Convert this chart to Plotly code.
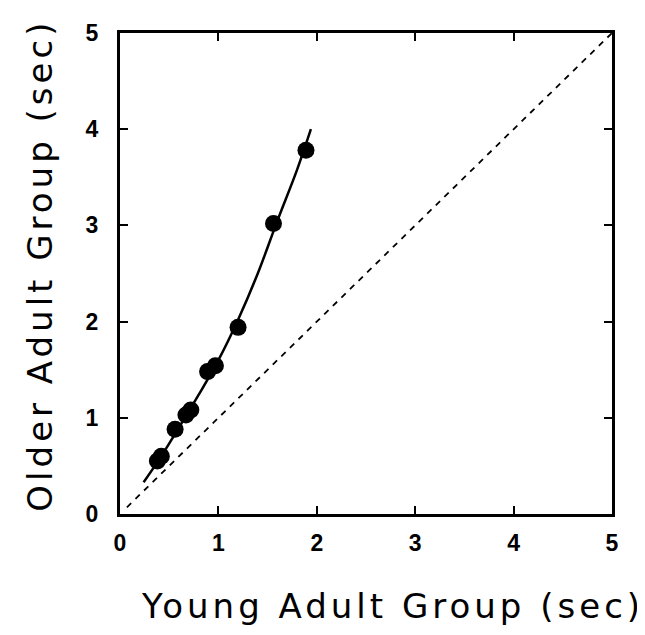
import plotly.graph_objects as go

# Observed data points (young, older) in seconds
young = [0.38, 0.42, 0.56, 0.67, 0.72, 0.89, 0.97, 1.20, 1.56, 1.89]
older = [0.55, 0.60, 0.88, 1.03, 1.08, 1.48, 1.54, 1.94, 3.02, 3.78]

# Fitted curve
curve_x = [0.24, 0.40, 0.60, 0.80, 1.00, 1.20, 1.40, 1.60, 1.80, 1.94]
curve_y = [0.33, 0.57, 0.90, 1.24, 1.60, 2.02, 2.50, 3.05, 3.58, 4.00]

# Identity line
diag_x = [0.07, 5]
diag_y = [0.07, 5]

ticks = [0, 1, 2, 3, 4, 5]
tick_labels = ["0", "1", "2", "3", "4", "5"]

x_title = "Young Adult Group (sec)"
y_title = "Older Adult Group (sec)"

fig = go.Figure()
fig.add_trace(go.Scatter(x=diag_x, y=diag_y, mode="lines",
                         line=dict(color="black", width=1.8, dash="6px,6px"),
                         hoverinfo="skip"))
fig.add_trace(go.Scatter(x=curve_x, y=curve_y, mode="lines",
                         line=dict(color="black", width=2.5, shape="spline"),
                         hoverinfo="skip"))
fig.add_trace(go.Scatter(x=young, y=older, mode="markers",
                         marker=dict(color="black", size=17)))

axis_common = dict(
    range=[0, 5], tickvals=ticks, ticktext=tick_labels,
    showgrid=False, zeroline=False, showline=True, linecolor="black",
    linewidth=3, mirror="ticks", ticks="inside", ticklen=8, tickwidth=1.5,
    tickcolor="black",
    tickfont=dict(family="Arial, Liberation Sans", size=23, color="black", weight=700),
)

title_font = dict(family="DejaVu Sans", size=34, color="black")

fig.update_layout(
    width=637, height=627,
    margin=dict(l=112, r=33, t=25, b=121),
    paper_bgcolor="white", plot_bgcolor="white",
    showlegend=False,
    xaxis=dict(**axis_common, ticklabelstandoff=6),
    yaxis=dict(**axis_common, ticklabelstandoff=14),
    annotations=[
        dict(text=x_title, xref="paper", yref="paper", x=0.553, y=-0.191,
             xanchor="center", yanchor="middle", showarrow=False, font=title_font),
        dict(text=y_title, xref="paper", yref="paper", x=-0.163, y=0.518,
             xanchor="center", yanchor="middle", showarrow=False, font=title_font,
             textangle=-90),
    ],
)

post = """
document.querySelectorAll('.annotation-text').forEach(function(e){
  e.style.letterSpacing='4px';
});
"""

fig.write_html("out.html", post_script=post)
